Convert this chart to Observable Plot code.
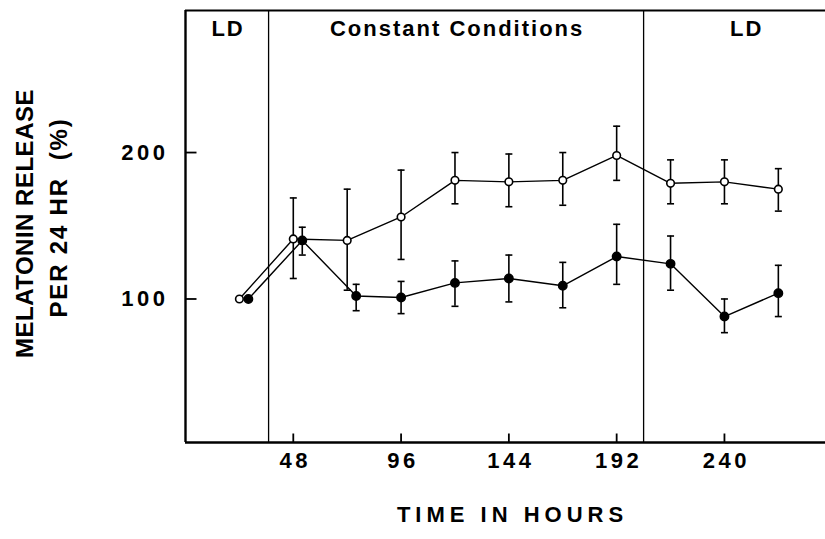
<!DOCTYPE html>
<html>
<head>
<meta charset="utf-8">
<script src="https://cdn.jsdelivr.net/npm/d3@7"></script>
<script src="https://cdn.jsdelivr.net/npm/@observablehq/plot@0.6"></script>
<style>
  html, body { margin: 0; padding: 0; background: #fff; overflow: hidden; }
  #chart svg { display: block; font-family: "Liberation Sans", Arial, Helvetica, sans-serif; }
</style>
</head>
<body>
<div id="chart"></div>
<script>
// Melatonin release per 24 h (% of baseline), two groups, mean ± error.
const openHours   = [24, 48, 72, 96, 120, 144, 168, 192, 216, 240, 264];
const openValue   = [100, 141, 140, 156, 181, 180, 181, 198, 179, 180, 175];
const openHigh    = [null, 169, 175, 188, 200, 199, 200, 218, 195, 195, 189];
const openLow     = [null, 114, 106, 127, 165, 163, 164, 181, 165, 165, 160];

const filledHours = [28, 52, 76, 96, 120, 144, 168, 192, 216, 240, 264];
const filledValue = [100, 140, 102, 101, 111, 114, 109, 129, 124, 88, 104];
const filledHigh  = [null, 149, 110, 112, 126, 130, 125, 151, 143, 100, 123];
const filledLow   = [null, 130, 92, 90, 95, 98, 94, 110, 106, 77, 88];

// Lighting phases (hours)
const phaseLabels = ["LD", "Constant Conditions", "LD"];
const phaseStart  = [0, 37, 204];
const phaseEnd    = [37, 204, 295];

const xTicks = [48, 96, 144, 192, 240];
const yTicks = [100, 200];
const xTitle = "TIME IN HOURS";
const yTitleLines = ["MELATONIN RELEASE", "PER 24 HR\u00a0\u00a0(%)"];

const xDomain = [0, 285];
const yDomain = [2, 297];

const toRows = (hours, value, high, low) =>
  hours.map((h, i) => ({hour: h, value: value[i], high: high[i], low: low[i]}));
const openRows = toRows(openHours, openValue, openHigh, openLow);
const filledRows = toRows(filledHours, filledValue, filledHigh, filledLow);
const withBars = rows => rows.filter(d => d.high != null && d.low != null);

const phases = phaseLabels.map((label, i) => ({label, mid: (phaseStart[i] + phaseEnd[i]) / 2}));
const dividers = phaseStart.slice(1);

// Small path symbols for error-bar caps and inward axis ticks
const capSymbol = {draw(ctx) { ctx.moveTo(-3.5, 0); ctx.lineTo(3.5, 0); }};
const yTickSymbol = {draw(ctx) { ctx.moveTo(0, 0); ctx.lineTo(11, 0); }};
const xTickSymbol = {draw(ctx) { ctx.moveTo(0, 0); ctx.lineTo(0, -9); }};

const bold = {fontWeight: "bold", fill: "black"};

const errorMarks = rows => [
  Plot.ruleX(withBars(rows), {x: "hour", y1: "low", y2: "high", stroke: "black", strokeWidth: 1.6}),
  Plot.dot(withBars(rows), {x: "hour", y: "high", symbol: capSymbol, stroke: "black", fill: "none", strokeWidth: 1.6}),
  Plot.dot(withBars(rows), {x: "hour", y: "low", symbol: capSymbol, stroke: "black", fill: "none", strokeWidth: 1.6})
];

const chart = Plot.plot({
  width: 825,
  height: 539,
  marginLeft: 185,
  marginRight: 0,
  marginTop: 10,
  marginBottom: 97,
  style: {background: "#fff", overflow: "visible"},
  x: {domain: xDomain, axis: null},
  y: {domain: yDomain, axis: null},
  marks: [
    // frame: top, left axis, bottom axis
    Plot.ruleY([yDomain[1]], {stroke: "black", strokeWidth: 2}),
    Plot.ruleY([yDomain[0]], {stroke: "black", strokeWidth: 2.4}),
    Plot.ruleX([xDomain[0]], {stroke: "black", strokeWidth: 2.4}),
    // phase dividers and labels
    Plot.ruleX(dividers, {stroke: "black", strokeWidth: 1.3}),
    Plot.text(phases, {x: "mid", text: "label", frameAnchor: "top", lineAnchor: "middle", dy: 18, dx: 1, fontSize: 22, ...bold}),
    // ticks and tick labels
    Plot.dot(xTicks, {x: d => d, y: () => yDomain[0], symbol: xTickSymbol, stroke: "black", fill: "none", strokeWidth: 1.8}),
    Plot.dot(yTicks, {x: () => xDomain[0], y: d => d, symbol: yTickSymbol, stroke: "black", fill: "none", strokeWidth: 1.8}),
    Plot.text(xTicks, {x: d => d, frameAnchor: "bottom", dy: 25, dx: 2, text: d => String(d), fontSize: 22, ...bold}),
    Plot.text(yTicks, {y: d => d, frameAnchor: "left", dx: -17, textAnchor: "end", text: d => String(d), fontSize: 22, ...bold}),
    // axis titles
    Plot.text([xTitle], {frameAnchor: "bottom", dx: 7, dy: 79, text: d => d, fontSize: 22, ...bold}),
    Plot.text([yTitleLines[0]], {frameAnchor: "left", textAnchor: "middle", dx: -160, dy: -3, rotate: -90, text: d => d, fontSize: 24, ...bold}),
    Plot.text([yTitleLines[1]], {frameAnchor: "left", textAnchor: "middle", dx: -126, dy: -9, rotate: -90, text: d => d, fontSize: 24, ...bold}),
    // error bars
    ...errorMarks(filledRows),
    ...errorMarks(openRows),
    // series lines and markers
    Plot.line(filledRows, {x: "hour", y: "value", stroke: "black", strokeWidth: 1.4}),
    Plot.line(openRows, {x: "hour", y: "value", stroke: "black", strokeWidth: 1.4}),
    Plot.dot(filledRows, {x: "hour", y: "value", r: 4.2, fill: "black", stroke: "black"}),
    Plot.dot(openRows, {x: "hour", y: "value", r: 3.8, fill: "white", stroke: "black", strokeWidth: 1.6})
  ]
});

// Letter spacing for the spaced-out lettering of each text group
const letterSpacing = new Map([
  ...phaseLabels.map(t => [t, 2]),
  ...xTicks.map(t => [String(t), 3.5]),
  ...yTicks.map(t => [String(t), 3.5]),
  [xTitle, 5],
  [yTitleLines[0], 0.5],
  [yTitleLines[1], 1.8]
]);
d3.select(chart).selectAll("text").each(function() {
  const s = letterSpacing.get(this.textContent);
  if (s != null) this.style.letterSpacing = s + "px";
});

document.getElementById("chart").appendChild(chart);
</script>
</body>
</html>
